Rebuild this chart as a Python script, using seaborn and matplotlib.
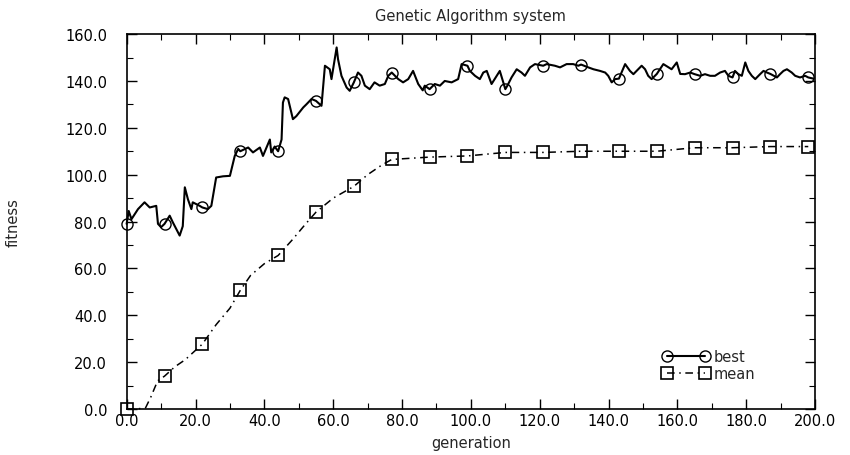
import numpy as np
import matplotlib
matplotlib.use("Agg")
import matplotlib.pyplot as plt
import seaborn as sns
from matplotlib.ticker import MultipleLocator, FormatStrFormatter

# best fitness per generation
best_gen = [0, 0.6, 1.4, 3.3, 5.2, 6.7, 8.6, 9.1, 10, 11, 12.5, 13.4, 15.4, 16.3, 16.9, 17.8,
            18.8, 19.2, 21.2, 22, 23.6, 24.6, 26, 28, 30, 31.4, 32.4, 33, 35.3, 36.7, 38.7,
            39.6, 41.6, 42, 43, 44, 45, 45.4, 45.9, 46.9, 48.3, 49.3, 51.3, 52.2, 53.7, 55,
            56.6, 57.6, 59, 59.5, 61, 61.4, 62.4, 63.9, 64.8, 66, 67.2, 68.2, 69.2, 70.6, 72,
            73.5, 75, 76, 77, 78.9, 80.3, 81.8, 83.2, 84.7, 86, 86.6, 88, 89.5, 91, 92.4, 94.4,
            96.3, 97.3, 99, 99.7, 101.2, 102.6, 103.6, 104.6, 106, 107.5, 108.4, 110, 110.6,
            111.8, 113.3, 114.7, 115.7, 117.2, 118.6, 121, 122, 124.4, 125.9, 127.8, 129.7,
            131.2, 132, 134.1, 135.6, 137.5, 139, 139.9, 140.9, 141.9, 143, 144.8, 146.2,
            147.2, 148.6, 149.6, 150.6, 151.5, 152.5, 154, 155.9, 157.4, 158.3, 159.8, 160.8,
            162.2, 163.7, 165, 166.6, 168, 169.5, 170.9, 172.4, 173.8, 174.8, 176, 176.7,
            177.7, 178.7, 179.7, 180.6, 181.6, 182.6, 184, 185, 186, 187, 188.9, 189.8, 190.8,
            191.8, 193.2, 194.2, 195.6, 197.1, 198, 199.5]
best_val = [79, 84.5, 81, 85.3, 88.2, 86, 86.7, 79, 77.6, 79, 82.5, 79.7, 74, 78, 94.6, 89.5,
            85.3, 88.2, 86.7, 86, 85.3, 86.7, 98.8, 99.3, 99.5, 108, 111, 110, 111.6, 109.5, 111.6,
            108, 115, 109.5, 112, 110, 115, 130.8, 133, 132.3, 123.7, 125, 128.7, 130, 132.3, 131.5,
            129.4, 146.5, 145, 140.8, 154.3, 149.3, 142.2, 137.2, 135.8, 139.4, 143.6, 142.2, 138, 136.5, 139.4,
            138, 138.7, 142.2, 143.6, 140.8, 139.4, 140.8, 144.3, 138.7, 136, 138, 136.5, 138.7, 138, 140, 139.4,
            140.8, 147.2, 146.5, 144.3, 142.2, 140.8, 143.6, 144.3, 138.7, 142.2, 144.3, 136.5, 138,
            141.5, 145, 143.6, 142.2, 145.8, 147.2, 146.5, 147.2, 146.5, 145.8, 147.2, 147.2,
            146.5, 147, 145.8, 145, 144.3, 143.6, 142.2, 139.4, 140.8, 141, 147.2, 144.3,
            142.9, 145, 146.5, 145, 142.2, 140.8, 143, 147.2, 145.8, 145, 147.9, 143,
            142.9, 143.6, 142.9, 142.2, 142.9, 142.2, 142.2, 143.6, 144.3, 142.2, 141.5, 144.3,
            142.9, 142.2, 147.9, 144.3, 142.2, 140.8, 142.9, 144.3, 143.6, 143, 141.5, 142.9, 144.3,
            145, 143.6, 142.2, 141.5, 142.2, 141.5, 141]

# mean fitness
mean_gen = [0, 3, 5.5, 7, 9, 11, 14, 17, 22, 26, 30, 33, 36, 40, 44, 48, 52, 55, 60, 66, 70,
            74, 77, 88, 99, 110, 121, 132, 143, 154, 165, 176, 187, 198]
mean_val = [0, 0, 0.5, 5, 12, 14, 18, 21, 27.7, 36, 43, 50.6, 57, 62, 65.5, 72, 79, 84, 90, 95,
            100, 104, 106.5, 107.5, 108, 109.5, 109.5, 110, 110, 110, 111.5, 111.5, 112, 112]

mark_gens = [0, 11, 22, 33, 44, 55, 66, 77, 88, 99, 110, 121, 132, 143, 154, 165, 176, 187, 198]

sns.set_style("ticks")
plt.rcParams['font.family'] = ['DejaVu Sans']

fig = plt.figure(figsize=(8.5, 4.56), dpi=100)
ax = fig.add_axes([0.149, 0.101, 0.81, 0.822])

best_marks = [best_gen.index(g) for g in mark_gens]
mean_marks = [mean_gen.index(g) for g in mark_gens]

sns.lineplot(x=best_gen, y=best_val, ax=ax, color='k', linewidth=1.5, estimator=None, sort=False,
             marker='o', markersize=8, markerfacecolor='none', markeredgecolor='k',
             markeredgewidth=1.0, markevery=best_marks, label='best', clip_on=False)
sns.lineplot(x=mean_gen, y=mean_val, ax=ax, color='k', linewidth=1.1, estimator=None, sort=False,
             linestyle=(0, (5, 3, 1, 3)),
             marker='s', markersize=8, markerfacecolor='none', markeredgecolor='k',
             markeredgewidth=1.2, markevery=mean_marks, label='mean', clip_on=False)

ax.set_xlim(0, 200)
ax.set_ylim(0, 160)
ax.xaxis.set_major_locator(MultipleLocator(20))
ax.xaxis.set_minor_locator(MultipleLocator(10))
ax.yaxis.set_major_locator(MultipleLocator(20))
ax.yaxis.set_minor_locator(MultipleLocator(10))
ax.xaxis.set_major_formatter(FormatStrFormatter('%.1f'))
ax.yaxis.set_major_formatter(FormatStrFormatter('%.1f'))
ax.tick_params(which='both', direction='in', top=True, right=True, labelsize=10.5, colors='k')
ax.tick_params(which='major', length=7, width=1.0)
ax.tick_params(axis='y', which='major', pad=14)
ax.tick_params(axis='x', which='major', pad=3)
ax.tick_params(which='minor', length=4, width=0.8)
for s in ax.spines.values():
    s.set_color('k')
    s.set_linewidth(1.2)

ax.set_title('Genetic Algorithm system', fontsize=10.5, pad=10)
ax.set_xlabel('generation', fontsize=10.5, labelpad=5)
ax.set_ylabel('fitness', fontsize=10.5, labelpad=32)

ax.legend(loc='lower left', bbox_to_anchor=(0.76, 0.04), frameon=False, fontsize=10.5,
          handlelength=3.2, labelspacing=0.1, handletextpad=0.3, numpoints=2)

fig.savefig('out.png', dpi=100)
